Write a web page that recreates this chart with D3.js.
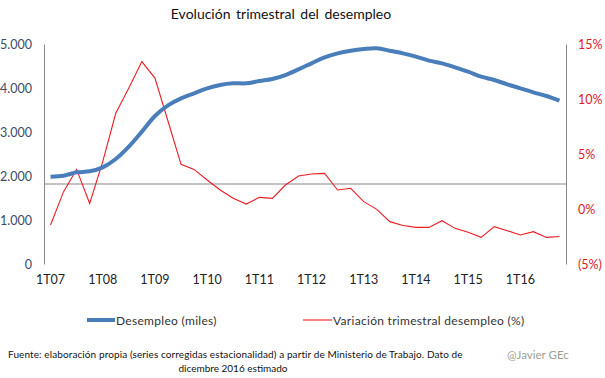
<!DOCTYPE html>
<html><head><meta charset="utf-8">
<script src="https://cdn.jsdelivr.net/npm/d3@7"></script>
<style>body{margin:0;background:#fff;}svg{display:block;font-family:"Lato","Open Sans",sans-serif;}</style>
</head><body><svg id="c" width="605" height="378"></svg>
<script>
const quarters = [];
["07","08","09","10","11","12","13","14","15","16"].forEach(y => { for (let q = 1; q <= 4; q++) quarters.push(q + "T" + y); });
const desempleo = [1985,2007,2083,2106,2197,2386,2667,3008,3364,3606,3765,3879,3992,4068,4106,4106,4159,4205,4295,4424,
  4561,4697,4788,4848,4886,4902,4848,4788,4712,4621,4561,4470,4371,4258,4182,4083,3992,3901,3818,3712];
const variacion = [-1.45,1.58,3.6,0.5,4.3,8.7,11.0,13.4,11.9,8.0,4.06,3.6,2.64,1.73,0.97,0.45,1.06,0.97,2.18,3.0,
  3.18,3.24,1.73,1.88,0.67,-0.03,-1.15,-1.5,-1.67,-1.67,-1.06,-1.76,-2.12,-2.58,-1.6,-1.97,-2.36,-2.06,-2.58,-2.5];
const leftTicks = [0,1000,2000,3000,4000,5000];
const rightTicks = [-5,0,5,10,15];
const xLabels = ["1T07","1T08","1T09","1T10","1T11","1T12","1T13","1T14","1T15","1T16"];
const crossValue = 1818;

const svg = d3.select("#c");
const L = 44, R = 566, T = 44, B = 264;
const x = d3.scaleBand().domain(quarters).range([L, R]);
const xc = d => x(d) + x.bandwidth()/2;
const yL = d3.scaleLinear().domain([0,5000]).range([B,T]);
const yR = d3.scaleLinear().domain([-5,15]).range([B,T]);
const fmtL = v => d3.format(",")(v).replace(/,/g, ".");
const fmtR = v => v < 0 ? "(" + Math.abs(v) + "%)" : v + "%";

svg.append("text").attr("x", 281).attr("y", 19).attr("text-anchor","middle")
  .attr("font-size", 14).attr("fill","#111").style("word-spacing","2px").text("Evolución trimestral del desempleo");

const gl = svg.append("g").attr("transform", `translate(${L},0)`)
  .call(d3.axisLeft(yL).tickValues(leftTicks).tickFormat(fmtL).tickSize(0).tickPadding(12));
gl.select(".domain").attr("stroke","#888");
gl.selectAll("text").attr("font-size",12.5).attr("fill","#3b4a66").attr("font-family","Lato, sans-serif");

const gr = svg.append("g").attr("transform", `translate(${R},0)`)
  .call(d3.axisRight(yR).tickValues(rightTicks).tickFormat(fmtR).tickSize(0).tickPadding(12));
gr.select(".domain").attr("stroke","#888");
gr.selectAll("text").attr("font-size",12.5).attr("fill","#e0191f").attr("font-family","Lato, sans-serif");

svg.append("line").attr("x1", L).attr("x2", R).attr("y1", yL(crossValue)).attr("y2", yL(crossValue))
  .attr("stroke","#888").attr("stroke-width",1.2);

const gx = svg.append("g").attr("transform", `translate(0,${B})`)
  .call(d3.axisBottom(x).tickValues(xLabels).tickSize(0).tickPadding(11));
gx.select(".domain").remove();
gx.selectAll("text").attr("font-size",12.5).attr("fill","#222").attr("font-family","Lato, sans-serif");
gx.selectAll(".tick").attr("transform", d => `translate(${xc(d)},0)`);

const lineL = d3.line().x((d,i) => xc(quarters[i])).y(d => yL(d)).curve(d3.curveCatmullRom.alpha(0.5));
const lineR = d3.line().x((d,i) => xc(quarters[i])).y(d => yR(d));

svg.append("path").datum(variacion).attr("d", lineR).attr("fill","none").attr("stroke","#ee1c24").attr("stroke-width",1.1);
svg.append("path").datum(desempleo).attr("d", lineL).attr("fill","none").attr("stroke","#4a7ebb").attr("stroke-width",4)
  .attr("stroke-linejoin","round");

const lg = svg.append("g").attr("font-size",12).attr("fill","#333").style("letter-spacing","0.3px");
lg.append("line").attr("x1",87).attr("x2",115).attr("y1",320).attr("y2",320).attr("stroke","#4a7ebb").attr("stroke-width",4);
lg.append("text").attr("x",116).attr("y",324.5).text("Desempleo (miles)");
lg.append("line").attr("x1",303).attr("x2",332).attr("y1",320).attr("y2",320).attr("stroke","#ee1c24").attr("stroke-width",1.1);
lg.append("text").attr("x",333).attr("y",324.5).text("Variación trimestral desempleo (%)");

const ft = svg.append("g").attr("font-size",10).attr("fill","#111");
ft.append("text").attr("x",8).attr("y",358).style("letter-spacing","0.1px").text("Fuente:  elaboración propia (series corregidas estacionalidad) a partir de Ministerio de Trabajo. Dato de");
ft.append("text").attr("x",233).attr("y",372).attr("text-anchor","middle").text("dicembre 2016 estimado");
svg.append("text").attr("x",507).attr("y",359).attr("font-size",11.5).attr("fill","#a0a090").text("@Javier GEc");
</script></body></html>
